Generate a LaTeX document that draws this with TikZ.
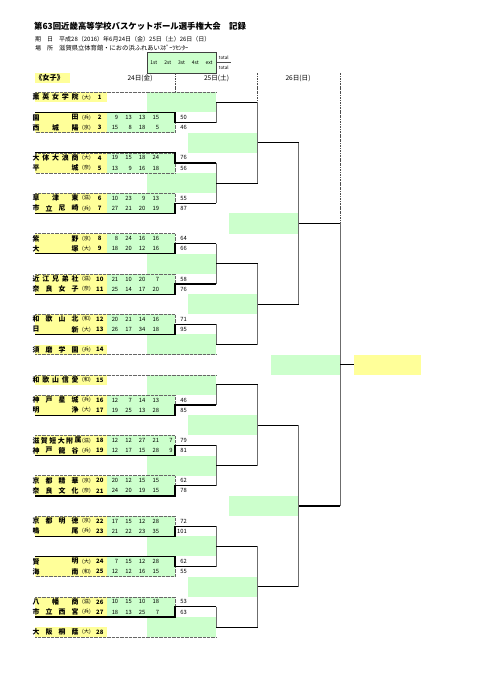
\documentclass[tikz,border=0pt]{standalone}
\usepackage{fontspec}
\setmainfont{Noto Sans CJK JP}
\definecolor{lg}{HTML}{CCFFCC}
\definecolor{ly}{HTML}{FFFF99}
\newcommand\yy[1]{92.3+10.09*(#1)}
\tikzset{
  nm/.style={inner sep=0pt, font=\fontsize{6.9}{7}\selectfont\bfseries},
  pf/.style={inner sep=0pt, font=\fontsize{5.2}{6}\selectfont},
  sd/.style={inner sep=0pt, font=\fontsize{6}{7}\selectfont\bfseries},
  sc/.style={inner sep=0pt, font=\fontsize{5.8}{6}\selectfont},
  hd/.style={inner sep=0pt, font=\fontsize{5}{6}\selectfont},
  dotline/.style={black!60, line width=0.5pt, dash pattern=on 0.6pt off 0.7pt},
  win/.style={black, line width=1.2pt, line join=miter},
  hline/.style={black, line width=1.1pt},
  vline/.style={gray!85!black, line width=0.6pt},
  daysep/.style={black!70, line width=0.6pt, dash pattern=on 2.2pt off 1pt on 0.6pt off 1pt},
}
\newcommand\team[5]{%
  \pgfmathsetmacro\yc{92.3+10.09*(#1+0.5)}%
  \pgfmathsetmacro\xe{ifthenelse(#2>5,78,75)}%
  \pgfmathsetmacro\dx{(\xe-36)/(#2-1)}%
  \foreach \c [count=\i] in {#3} {%
    \node[nm] (nm#5-\i) at ({36+\dx*(\i-1)},\yc) {\c};%
  }%
  \node[pf] (pf#5) at (86.5,\yc) {(#4)};%
  \node[sd] (sd#5) at (99.8,\yc) {#5};%
}
\newcommand\scores[4]{%
  \pgfmathsetmacro\yc{92.3+10.09*(#1+0.5)}%
  \foreach \s [count=\i] in {#3} {%
    \node[sc, anchor=east] (sc#2-\i) at ({107+13.6*\i-2.2},\yc) {\s};%
  }%
  \node[sc, anchor=east] (tt#2) at (187,\yc) {#4};%
}
\newcommand\rone[2]{%
  \coordinate (b#1tl) at (35,{\yy{#1}});%
  \coordinate (b#1tr) at (175,{\yy{#1}});%
  \coordinate (b#1bl) at (35,{\yy{#1+2}});%
  \coordinate (b#1br) at (175,{\yy{#1+2}});%
  \coordinate (b#1m) at (175,{\yy{#1+1}});%
  \coordinate (b#1o) at (216.25,{\yy{#1+1}});%
  \draw[dotline] (b#1tl) -- (b#1tr) -- (b#1br) -- (b#1bl);%
  \ifnum#2=0 \draw[win] (b#1tl) -- (b#1tr) -- (b#1m) -- (b#1o);%
  \else \draw[win] (b#1bl) -- (b#1br) -- (b#1m) -- (b#1o);\fi
}
\newcommand\jn[6]{% name, x, row a, row b, out row, length
  \coordinate (#1a) at (#2,{\yy{#3}});%
  \coordinate (#1b) at (#2,{\yy{#4}});%
  \coordinate (#1o) at (#2,{\yy{#5}});%
  \coordinate (#1e) at ({#2+#6},{\yy{#5}});%
  \draw[vline] (#1a) -- (#1b);%
  \draw[hline] (#1o) -- (#1e);%
}
\newcommand\gbox[4]{% name, xl, xr, top row
  \fill[lg] (#2,{\yy{#4}}) rectangle (#3,{\yy{#4+2}});%
  \coordinate (#1) at ({(#2+#3)/2},{\yy{#4+1}});%
}
\begin{document}
\begin{tikzpicture}[x=1pt,y=-1pt]
\useasboundingbox (0,0) rectangle (481,680);
\fill[white] (0,0) rectangle (481,680);

% ---------- header texts
\node[anchor=west, inner sep=0pt, font=\fontsize{8.4}{9}\selectfont\bfseries] (title) at (34,26) {第63回近畿高等学校バスケットボール選手権大会　記録};
\node[anchor=west, inner sep=0pt, font=\fontsize{6}{7}\selectfont] (k1) at (35,39) {期};
\node[anchor=west, inner sep=0pt, font=\fontsize{6}{7}\selectfont] (k2) at (47,39) {日};
\node[anchor=west, inner sep=0pt, font=\fontsize{6}{7}\selectfont] (k3) at (59,39) {平成28（2016）年6月24日（金）25日（土）26日（日）};
\node[anchor=west, inner sep=0pt, font=\fontsize{6}{7}\selectfont] (p1) at (35,48) {場};
\node[anchor=west, inner sep=0pt, font=\fontsize{6}{7}\selectfont] (p2) at (47,48) {所};
\node[anchor=west, inner sep=0pt, font=\fontsize{6.3}{7}\selectfont] (p3) at (59,48) {滋賀県立体育館・におの浜ふれあいｽﾎﾟｰﾂｾﾝﾀｰ};

% score header box
\node[draw=black!75, line width=0.8pt, fill=lg, minimum width=69pt, minimum height=21pt, inner sep=0pt, anchor=north west] (hdr) at (147,52) {};
\foreach \t [count=\i] in {1st,2st,3st,4st,ext} {
  \node[hd] (h\i) at ({147+13.8*(\i-0.5)},62.5) {\t};
}
\node[inner sep=0pt, font=\fontsize{4.5}{5}\selectfont] (tot1) at (223.8,57.3) {total};
\node[inner sep=0pt, font=\fontsize{4.5}{5}\selectfont] (tot2) at (223.8,67.5) {total};
\coordinate (tl1) at (216.5,62.6);
\coordinate (tl2) at (231,62.6);
\draw[black!70, line width=0.5pt] (tl1) -- (tl2);

% girls label
\fill[ly] (35,73) rectangle (70,83);
\node[anchor=west, inner sep=0pt, font=\fontsize{7.2}{8}\selectfont\bfseries] (girls) at (35,78) {《女子》};
\node[inner sep=0pt, font=\fontsize{6.6}{7}\selectfont] (d24) at (140,78) {24日(金)};
\node[inner sep=0pt, font=\fontsize{6.6}{7}\selectfont] (d25) at (216.5,78) {25日(土)};
\node[inner sep=0pt, font=\fontsize{6.6}{7}\selectfont] (d26) at (298,78) {26日(日)};

% ---------- fills
\foreach \k in {2,6,10,14,18,22,30,34,38,42,46,50} {
  \fill[ly] (35,{\yy{\k}}) rectangle (107,{\yy{\k+2}});
  \fill[lg] (107,{\yy{\k}}) rectangle (175,{\yy{\k+2}});
}
\foreach \k in {0,25,28,53} {
  \fill[ly] (35,{\yy{\k}}) rectangle (107,{\yy{\k+1}});
}
\gbox{gA}{146.8}{216.25}{0}
\gbox{gB}{188}{257.5}{4}
\gbox{gC}{146.8}{216.25}{8}
\gbox{gD}{229.3}{298.75}{12}
\gbox{gE}{146.8}{216.25}{16}
\gbox{gF}{188}{257.5}{20}
\gbox{gG}{146.8}{216.25}{24}
\gbox{gH}{270.5}{340}{26}
\gbox{gI}{146.8}{216.25}{28}
\gbox{gJ}{188}{257.5}{32}
\gbox{gK}{146.8}{216.25}{36}
\gbox{gL}{229.3}{298.75}{40}
\gbox{gM}{146.8}{216.25}{44}
\gbox{gN}{188}{257.5}{48}
\gbox{gO}{146.8}{216.25}{52}
\node[fill=ly, inner sep=0pt, minimum width=67.5pt, minimum height=20.18pt] (champ) at (387.25,{\yy{27}}) {};

% ---------- day separators
\coordinate (ds1a) at (175,73);  \coordinate (ds1b) at (175,{\yy{0}});
\coordinate (ds2a) at (257.5,73); \coordinate (ds2b) at (257.5,{\yy{1}});
\coordinate (ds3a) at (340,73);  \coordinate (ds3b) at (340,{\yy{13}});
\draw[daysep] (ds1a) -- (ds1b);
\draw[daysep] (ds2a) -- (ds2b);
\draw[daysep] (ds3a) -- (ds3b);

% ---------- bye rows dotted borders
\coordinate (y1a) at (35,{\yy{0}});  \coordinate (y1b) at (216.25,{\yy{0}});
\coordinate (y14a) at (35,{\yy{26}}); \coordinate (y14b) at (216.25,{\yy{26}});
\coordinate (y15a) at (35,{\yy{28}}); \coordinate (y15b) at (216.25,{\yy{28}});
\coordinate (y28a) at (35,{\yy{54}}); \coordinate (y28b) at (216.25,{\yy{54}});
\draw[dotline] (y1a) -- (y1b);
\draw[dotline] (y14a) -- (y14b);
\draw[dotline] (y15a) -- (y15b);
\draw[dotline] (y28a) -- (y28b);

% ---------- first round blocks
\rone{2}{0}
\rone{6}{0}
\rone{10}{1}
\rone{14}{1}
\rone{18}{1}
\rone{22}{1}
\rone{30}{1}
\rone{34}{1}
\rone{38}{1}
\rone{42}{1}
\rone{46}{0}
\rone{50}{1}

% ---------- bracket joins
\jn{r2a}{216.25}{1}{3}{1}{41.25}
\jn{r2b}{216.25}{7}{11}{9}{41.25}
\jn{r2c}{216.25}{15}{19}{17}{41.25}
\jn{r2d}{216.25}{23}{25}{25}{41.25}
\jn{r2e}{216.25}{29}{31}{29}{41.25}
\jn{r2f}{216.25}{35}{39}{37}{41.25}
\jn{r2g}{216.25}{43}{47}{45}{41.25}
\jn{r2h}{216.25}{51}{53}{53}{41.25}
\jn{r3a}{257.5}{1}{9}{5}{41.25}
\jn{r3b}{257.5}{17}{25}{21}{41.25}
\jn{r3c}{257.5}{29}{37}{33}{41.25}
\jn{r3d}{257.5}{45}{53}{49}{41.25}
\jn{r4a}{298.75}{5}{21}{13}{41.25}
\jn{r4b}{298.75}{33}{49}{41}{41.25}
\jn{fin}{340}{13}{41}{27}{13.5}

% ---------- teams
\team{0}{5}{薫,英,女,学,院}{大}{1}
\team{2}{2}{園,田}{兵}{2}          \scores{2}{2}{9,13,13,15}{50}
\team{3}{3}{西,城,陽}{京}{3}       \scores{3}{3}{15,8,18,5}{46}
\team{6}{5}{大,体,大,浪,商}{大}{4} \scores{6}{4}{19,15,18,24}{76}
\team{7}{2}{平,城}{奈}{5}          \scores{7}{5}{13,9,16,18}{56}
\team{10}{3}{草,津,東}{滋}{6}      \scores{10}{6}{10,23,9,13}{55}
\team{11}{4}{市,立,尼,崎}{兵}{7}   \scores{11}{7}{27,21,20,19}{87}
\team{14}{2}{紫,野}{京}{8}         \scores{14}{8}{8,24,16,16}{64}
\team{15}{2}{大,塚}{大}{9}         \scores{15}{9}{18,20,12,16}{66}
\team{18}{5}{近,江,兄,弟,社}{滋}{10} \scores{18}{10}{21,10,20,7}{58}
\team{19}{4}{奈,良,女,子}{奈}{11}  \scores{19}{11}{25,14,17,20}{76}
\team{22}{4}{和,歌,山,北}{和}{12}  \scores{22}{12}{20,21,14,16}{71}
\team{23}{2}{日,新}{大}{13}        \scores{23}{13}{26,17,34,18}{95}
\team{25}{4}{須,磨,学,園}{兵}{14}
\team{28}{5}{和,歌,山,信,愛}{和}{15}
\team{30}{4}{神,戸,星,城}{兵}{16}  \scores{30}{16}{12,7,14,13}{46}
\team{31}{2}{明,浄}{大}{17}        \scores{31}{17}{19,25,13,28}{85}
\team{34}{6}{滋,賀,短,大,附,属}{滋}{18} \scores{34}{18}{12,12,27,21,7}{79}
\team{35}{4}{神,戸,龍,谷}{兵}{19}  \scores{35}{19}{12,17,15,28,9}{81}
\team{38}{4}{京,都,精,華}{京}{20}  \scores{38}{20}{20,12,15,15}{62}
\team{39}{4}{奈,良,文,化}{奈}{21}  \scores{39}{21}{24,20,19,15}{78}
\team{42}{4}{京,都,明,徳}{京}{22}  \scores{42}{22}{17,15,12,28}{72}
\team{43}{2}{鳴,尾}{兵}{23}        \scores{43}{23}{21,22,23,35}{101}
\team{46}{2}{賢,明}{大}{24}        \scores{46}{24}{7,15,12,28}{62}
\team{47}{2}{海,南}{和}{25}        \scores{47}{25}{12,12,16,15}{55}
\team{50}{3}{八,幡,商}{滋}{26}     \scores{50}{26}{10,15,10,18}{53}
\team{51}{4}{市,立,西,宮}{兵}{27}  \scores{51}{27}{18,13,25,7}{63}
\team{53}{4}{大,阪,桐,蔭}{大}{28}
\end{tikzpicture}
\end{document}
